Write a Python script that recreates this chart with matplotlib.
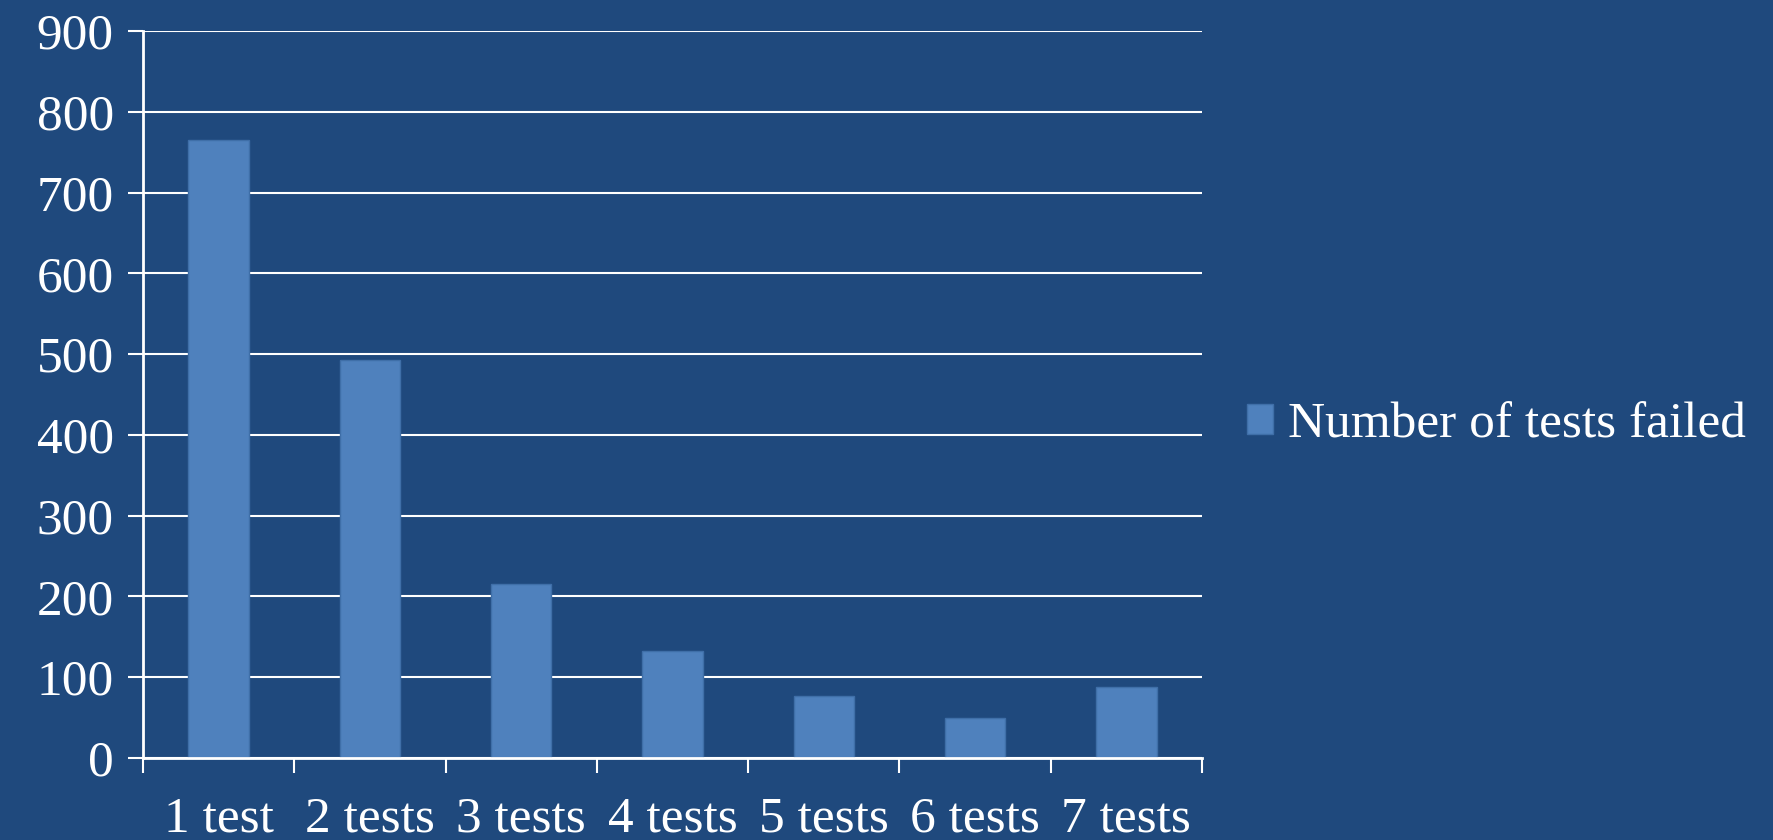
import matplotlib.pyplot as plt
import numpy as np

# data
categories = ['1 test', '2 tests', '3 tests', '4 tests', '5 tests', '6 tests', '7 tests']
failed = [765, 493, 216, 133, 77, 49, 88]
yticks = [0, 100, 200, 300, 400, 500, 600, 700, 800, 900]

bg = '#1F497D'
bar_col = '#4F81BD'

plt.rcParams['font.family'] = ['Liberation Serif', 'DejaVu Serif']

fig = plt.figure(figsize=(17.74, 8.4), dpi=100, facecolor=bg)
ax = fig.add_axes([0.0806, 0.0976, 0.5970, 0.8654])
ax.set_facecolor(bg)

x = np.arange(len(categories))
ax.bar(x, failed, width=0.40, color=bar_col, edgecolor='#3F6FA8', linewidth=1,
       label='Number of tests failed', zorder=3)

ax.set_ylim(0, 900)
ax.set_xlim(-0.5, len(categories) - 0.5)
ax.set_yticks(yticks)
ax.set_yticklabels([str(v) for v in yticks])
ax.yaxis.grid(True, color='white', linewidth=1.5, zorder=1)
ax.tick_params(axis='y', colors='white', labelsize=37, length=11, width=1.5, pad=10)

# boundary ticks between categories, labels centred
ax.set_xticks(np.arange(-0.5, len(categories)), minor=False)
ax.set_xticklabels([])
ax.set_xticks(x, minor=True)
ax.set_xticklabels(categories, minor=True)
ax.tick_params(axis='x', which='major', colors='white', length=11, width=1.5)
ax.tick_params(axis='x', which='minor', colors='white', length=0, labelsize=37, pad=27)

for s in ['top', 'right']:
    ax.spines[s].set_visible(False)
for s in ['left', 'bottom']:
    ax.spines[s].set_color('white')
    ax.spines[s].set_linewidth(2)
    ax.spines[s].set_zorder(4)

leg = fig.legend(loc='center left', bbox_to_anchor=(0.677, 0.494), frameon=False,
                 fontsize=37, handlelength=0.5, handleheight=0.5, handletextpad=0.3,
                 labelcolor='white')

fig.savefig('out.png', dpi=100, facecolor=bg)
